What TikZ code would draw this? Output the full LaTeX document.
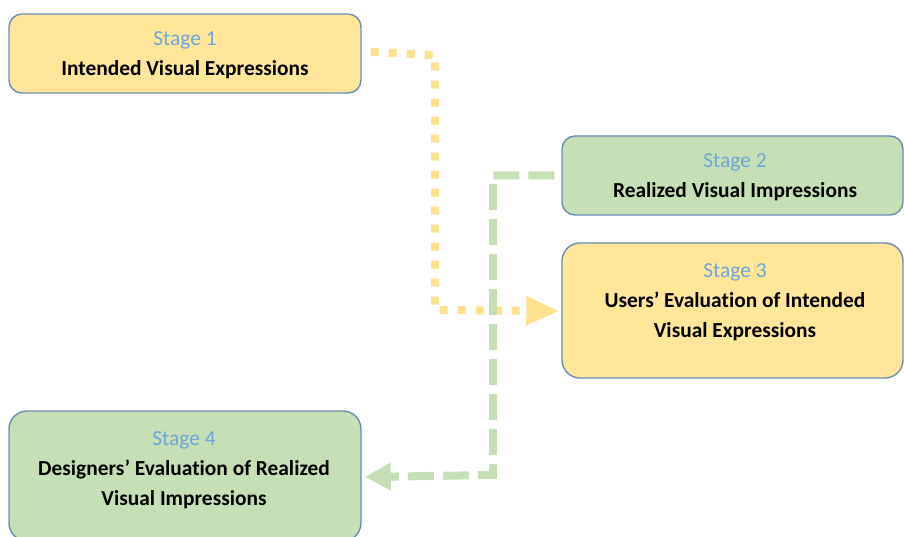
\documentclass[tikz,border=0pt]{standalone}
\usepackage{fontspec}
\setmainfont[Ligatures=NoCommon]{Carlito}
\usetikzlibrary{arrows.meta}
\definecolor{yfill}{HTML}{FFE699}
\definecolor{gfill}{HTML}{C5E0B4}
\definecolor{edge}{HTML}{6A8DB8}
\definecolor{stagec}{HTML}{6AA6DA}
\definecolor{yarrow}{HTML}{FFE08C}
\definecolor{garrow}{HTML}{C5E0B4}
\tikzset{
  stagebox/.style={draw=edge, line width=1.4pt, rounded corners=13pt, inner sep=0pt},
  ybox/.style={stagebox, fill=yfill},
  gbox/.style={stagebox, fill=gfill},
  boxtext/.style={align=center, font=\fontsize{21.4}{30}\selectfont\bfseries, text=black, inner sep=0pt},
  dottedarrow/.style={draw=yarrow, line width=8pt, dash pattern=on 8pt off 10pt, -{Triangle[length=33pt,width=27pt]}},
  dashedarrow/.style={draw=garrow, line width=8pt, dash pattern=on 26pt off 9pt, -{Triangle[length=26pt,width=26pt]}}
}
\newcommand{\stg}[1]{{\mdseries\color{stagec}#1}}
\begin{document}
\begin{tikzpicture}[x=1pt,y=-1pt]
\useasboundingbox (0,0) rectangle (904,537);
% boxes
\node[ybox, minimum width=352pt, minimum height=79pt] (s1) at (185,53.5) {};
\node[gbox, minimum width=341pt, minimum height=79pt] (s2) at (732.5,175.5) {};
\node[ybox, rounded corners=18pt, minimum width=341pt, minimum height=135pt] (s3) at (732.5,310.5) {};
\node[gbox, rounded corners=18pt, minimum width=352pt, minimum height=130pt] (s4) at (185,476) {};
% texts
\node[boxtext] (t1) at (185,55) {\stg{Stage 1}\\Intended Visual Expressions};
\node[boxtext] (t2) at (735,177) {\stg{Stage 2}\\Realized Visual Impressions};
\node[boxtext] (t3) at (735,302) {\stg{Stage 3}\\Users’ Evaluation of Intended\\Visual Expressions};
\node[boxtext] (t4) at (184,470) {\stg{Stage 4}\\Designers’ Evaluation of Realized\\Visual Impressions};
% connectors
\coordinate (y1) at (435,55);
\coordinate (y2) at (435,310);
\draw[dottedarrow] ([xshift=9pt,yshift=1.5pt]s1.east) -- (y1) -- (y2) -- ([xshift=-2pt,yshift=-0.5pt]s3.west);
\coordinate (g1) at (493,175.5);
\coordinate (g2) at (493,475);
\draw[dashedarrow] ([xshift=-7pt]s2.west) -- (g1) -- (g2) -- ([xshift=3pt,yshift=-1pt]s4.east);
\end{tikzpicture}
\end{document}
